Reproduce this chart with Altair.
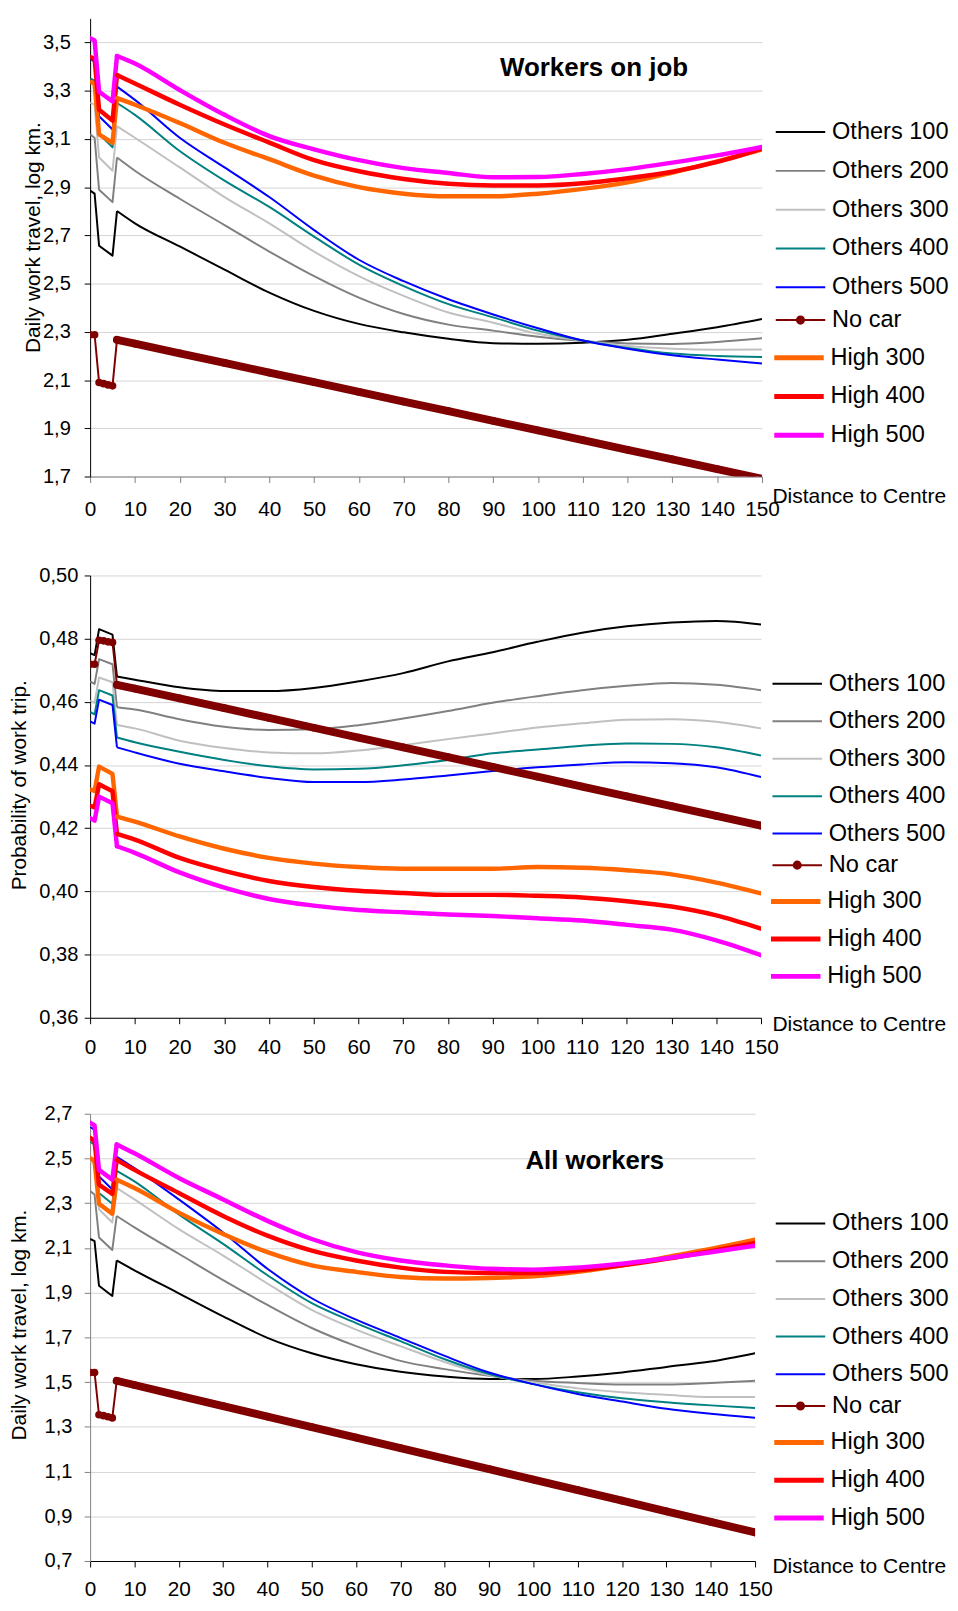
import altair as alt
import pandas as pd

FONT = "Liberation Sans"

OTHERS = ["Others 100", "Others 200", "Others 300", "Others 400", "Others 500"]
OTHERS_COLORS = ["#000000", "#808080", "#C0C0C0", "#008080", "#0000FF"]
NOCAR = ["No car"]
NOCAR_COLORS = ["#800000"]
HIGH = ["High 300", "High 400", "High 500"]
HIGH_COLORS = ["#FF6600", "#FF0000", "#FF00FF"]
SERIES = OTHERS + NOCAR + HIGH

DIST = [0, 1, 2, 5, 6, 10, 20, 30, 40, 50, 60, 70, 80, 90, 100, 110, 120, 130, 140, 150]
DIST_NOCAR = [0, 1, 2, 3, 4, 5, 6, 10, 20, 30, 40, 50, 60, 70, 80, 90, 100, 110, 120, 130, 140, 150]
X_TICKS = list(range(0, 151, 10))

# ---------- Panel 1: Workers on job (daily work travel, log km) ----------
P1_OTHERS_100 = [2.886, 2.873, 2.657, 2.616, 2.801, 2.750, 2.654, 2.558, 2.463, 2.387, 2.333, 2.298, 2.271, 2.253, 2.251, 2.255, 2.267, 2.292, 2.319, 2.353]
P1_OTHERS_200 = [3.119, 3.105, 2.889, 2.838, 3.023, 2.968, 2.852, 2.743, 2.633, 2.531, 2.442, 2.374, 2.330, 2.305, 2.280, 2.262, 2.252, 2.250, 2.258, 2.273]
P1_OTHERS_300 = [3.251, 3.242, 3.023, 2.968, 3.153, 3.105, 2.982, 2.859, 2.750, 2.633, 2.531, 2.449, 2.380, 2.338, 2.292, 2.264, 2.241, 2.230, 2.226, 2.227]
P1_OTHERS_400 = [3.351, 3.342, 3.120, 3.065, 3.249, 3.200, 3.050, 2.927, 2.818, 2.695, 2.579, 2.490, 2.415, 2.360, 2.305, 2.264, 2.233, 2.210, 2.200, 2.196]
P1_OTHERS_500 = [3.433, 3.420, 3.194, 3.139, 3.317, 3.262, 3.105, 2.982, 2.859, 2.722, 2.599, 2.510, 2.435, 2.372, 2.315, 2.264, 2.230, 2.203, 2.185, 2.169]
P1_NO_CAR = [2.288, 2.288, 2.090, 2.085, 2.080, 2.076, 2.267, 2.251, 2.211, 2.171, 2.131, 2.091, 2.051, 2.011, 1.971, 1.931, 1.891, 1.851, 1.811, 1.771, 1.731, 1.691]
P1_HIGH_300 = [3.337, 3.330, 3.119, 3.084, 3.269, 3.242, 3.166, 3.084, 3.016, 2.948, 2.900, 2.873, 2.862, 2.862, 2.873, 2.893, 2.920, 2.961, 3.007, 3.057]
P1_HIGH_400 = [3.440, 3.433, 3.221, 3.176, 3.365, 3.330, 3.242, 3.160, 3.085, 3.012, 2.966, 2.934, 2.914, 2.907, 2.907, 2.916, 2.937, 2.964, 3.005, 3.060]
P1_HIGH_500 = [3.518, 3.508, 3.296, 3.255, 3.444, 3.413, 3.303, 3.200, 3.112, 3.057, 3.012, 2.979, 2.959, 2.941, 2.942, 2.955, 2.975, 3.002, 3.032, 3.067]

# ---------- Panel 2: probability of work trip ----------
P2_OTHERS_100 = [0.4754, 0.4748, 0.4830, 0.4813, 0.4680, 0.4670, 0.4646, 0.4634, 0.4634, 0.4644, 0.4665, 0.4691, 0.4728, 0.4757, 0.4790, 0.4819, 0.4839, 0.4851, 0.4856, 0.4845]
P2_OTHERS_200 = [0.4665, 0.4657, 0.4735, 0.4719, 0.4583, 0.4576, 0.4545, 0.4521, 0.4511, 0.4513, 0.4526, 0.4547, 0.4571, 0.4597, 0.4618, 0.4637, 0.4651, 0.4660, 0.4654, 0.4637]
P2_OTHERS_300 = [0.4604, 0.4597, 0.4677, 0.4662, 0.4527, 0.4516, 0.4477, 0.4454, 0.4440, 0.4437, 0.4446, 0.4463, 0.4482, 0.4500, 0.4519, 0.4532, 0.4543, 0.4545, 0.4537, 0.4516]
P2_OTHERS_400 = [0.4568, 0.4560, 0.4637, 0.4620, 0.4487, 0.4472, 0.4442, 0.4416, 0.4396, 0.4386, 0.4388, 0.4399, 0.4416, 0.4437, 0.4449, 0.4461, 0.4468, 0.4467, 0.4456, 0.4430]
P2_OTHERS_500 = [0.4538, 0.4531, 0.4607, 0.4590, 0.4456, 0.4440, 0.4404, 0.4380, 0.4359, 0.4346, 0.4346, 0.4354, 0.4367, 0.4381, 0.4393, 0.4402, 0.4409, 0.4406, 0.4393, 0.4362]
P2_NO_CAR = [0.4719, 0.4719, 0.4795, 0.4793, 0.4790, 0.4788, 0.4654, 0.4642, 0.4611, 0.4580, 0.4549, 0.4518, 0.4487, 0.4456, 0.4425, 0.4394, 0.4363, 0.4332, 0.4301, 0.4270, 0.4239, 0.4208]
P2_HIGH_300 = [0.4323, 0.4318, 0.4395, 0.4372, 0.4237, 0.4221, 0.4174, 0.4135, 0.4106, 0.4088, 0.4077, 0.4072, 0.4072, 0.4072, 0.4077, 0.4075, 0.4067, 0.4054, 0.4028, 0.3994]
P2_HIGH_400 = [0.4271, 0.4266, 0.4339, 0.4317, 0.4182, 0.4164, 0.4106, 0.4065, 0.4033, 0.4014, 0.4002, 0.3995, 0.3989, 0.3989, 0.3986, 0.3981, 0.3969, 0.3952, 0.3924, 0.3882]
P2_HIGH_500 = [0.4232, 0.4224, 0.4300, 0.4279, 0.4143, 0.4122, 0.4060, 0.4012, 0.3976, 0.3955, 0.3941, 0.3934, 0.3927, 0.3922, 0.3915, 0.3908, 0.3894, 0.3879, 0.3845, 0.3798]

# ---------- Panel 3: All workers (daily work travel, log km) ----------
P3_OTHERS_100 = [2.140, 2.130, 1.931, 1.885, 2.044, 2.000, 1.897, 1.794, 1.698, 1.629, 1.580, 1.546, 1.525, 1.514, 1.514, 1.525, 1.543, 1.568, 1.592, 1.629]
P3_OTHERS_200 = [2.354, 2.339, 2.147, 2.091, 2.243, 2.192, 2.074, 1.956, 1.845, 1.742, 1.661, 1.595, 1.558, 1.528, 1.506, 1.496, 1.489, 1.489, 1.496, 1.506]
P3_OTHERS_300 = [2.486, 2.478, 2.273, 2.214, 2.368, 2.317, 2.184, 2.066, 1.941, 1.823, 1.735, 1.661, 1.590, 1.531, 1.499, 1.472, 1.455, 1.443, 1.433, 1.433]
P3_OTHERS_400 = [2.575, 2.562, 2.346, 2.298, 2.445, 2.398, 2.250, 2.118, 1.978, 1.853, 1.764, 1.683, 1.602, 1.536, 1.491, 1.455, 1.428, 1.410, 1.396, 1.384]
P3_OTHERS_500 = [2.641, 2.628, 2.420, 2.361, 2.508, 2.457, 2.317, 2.169, 2.007, 1.875, 1.779, 1.698, 1.617, 1.543, 1.491, 1.447, 1.413, 1.381, 1.359, 1.341]
P3_NO_CAR = [1.543, 1.543, 1.354, 1.350, 1.345, 1.340, 1.506, 1.487, 1.440, 1.393, 1.346, 1.299, 1.252, 1.205, 1.158, 1.111, 1.064, 1.017, 0.970, 0.922, 0.875, 0.828]
P3_HIGH_300 = [2.501, 2.489, 2.298, 2.253, 2.405, 2.368, 2.258, 2.162, 2.081, 2.022, 1.993, 1.970, 1.963, 1.966, 1.973, 1.993, 2.022, 2.059, 2.096, 2.137]
P3_HIGH_400 = [2.592, 2.578, 2.383, 2.342, 2.494, 2.449, 2.346, 2.243, 2.155, 2.088, 2.044, 2.012, 1.993, 1.988, 1.988, 2.000, 2.022, 2.051, 2.085, 2.122]
P3_HIGH_500 = [2.660, 2.648, 2.449, 2.405, 2.563, 2.523, 2.413, 2.317, 2.221, 2.140, 2.081, 2.044, 2.022, 2.007, 2.003, 2.012, 2.029, 2.054, 2.081, 2.110]

P1_TICKS = [1.7, 1.9, 2.1, 2.3, 2.5, 2.7, 2.9, 3.1, 3.3, 3.5]
P2_TICKS = [0.36, 0.38, 0.40, 0.42, 0.44, 0.46, 0.48, 0.50]
P3_TICKS = [0.7, 0.9, 1.1, 1.3, 1.5, 1.7, 1.9, 2.1, 2.3, 2.5, 2.7]

# panel headings, anchored in data units (distance, value)
P1_HEADING = {"label": ["Workers on job"], "d": [91.5], "v": [3.363]}
P3_HEADING = {"label": ["All workers"], "d": [98.2], "v": [2.455]}


def frame(cols):
    rows = []
    for s, vals in zip(SERIES, cols):
        xs = DIST_NOCAR if s == "No car" else DIST
        for d, v in zip(xs, vals):
            rows.append({"series": s, "d": d, "v": v})
    return pd.DataFrame(rows)


DF1 = frame([P1_OTHERS_100, P1_OTHERS_200, P1_OTHERS_300, P1_OTHERS_400, P1_OTHERS_500,
             P1_NO_CAR, P1_HIGH_300, P1_HIGH_400, P1_HIGH_500])
DF2 = frame([P2_OTHERS_100, P2_OTHERS_200, P2_OTHERS_300, P2_OTHERS_400, P2_OTHERS_500,
             P2_NO_CAR, P2_HIGH_300, P2_HIGH_400, P2_HIGH_500])
DF3 = frame([P3_OTHERS_100, P3_OTHERS_200, P3_OTHERS_300, P3_OTHERS_400, P3_OTHERS_500,
             P3_NO_CAR, P3_HIGH_300, P3_HIGH_400, P3_HIGH_500])


def circ(cx, r):
    return "M%.4f,0A%.4f,%.4f,0,1,1,%.4f,0A%.4f,%.4f,0,1,1,%.4f,0Z" % (cx - r, r, r, cx + r, r, r, cx - r)


LINE_PATH = "M-1.4375,0H4.8125"
DOT_PATH = LINE_PATH + circ(1.6875, 0.45)
LEG_FONT = 23.8
ENTRY_H = 23.8
ENTRY_MID = 12


def legend(x, y, rp, sym, sw, stroke_color=None):
    kw = dict(orient="none", legendX=x, legendY=y, title=None, padding=0,
              symbolType=sym, symbolSize=256, symbolStrokeWidth=sw,
              labelFont=FONT, labelFontSize=LEG_FONT, labelColor="black", labelOffset=33.5,
              rowPadding=rp, labelLimit=300)
    if stroke_color is not None:
        kw["symbolStrokeColor"] = stroke_color
    return alt.Legend(**kw)


def heading_size(h):
    return 26.2 if h["label"][0] == "Workers on job" else 26


def panel(df, width, height, ydom, yticks, ydec, ytitle, yax, xax, leg, heading=None):
    lx, ly0, sp = leg["x"], leg["y0"], leg["sp"]
    rp = sp - ENTRY_H
    leg_others = legend(lx, ly0 - ENTRY_MID, rp, LINE_PATH, 2)
    leg_nocar = legend(lx, ly0 + 5 * sp - ENTRY_MID, rp, DOT_PATH, 2, "#800000")
    leg_high = legend(lx - 1.5, ly0 + 6 * sp - ENTRY_MID, rp, LINE_PATH, 5)

    label_expr = "replace(format(datum.value, '.%df'), '.', ',')" % ydec

    xscale = alt.Scale(domain=[0, 150], nice=False, zero=False)
    yscale = alt.Scale(domain=ydom, nice=False, zero=False)
    xenc = alt.X("d:Q", scale=xscale,
                 axis=alt.Axis(values=X_TICKS, format="d", grid=False, tickSize=6,
                               tickColor=xax["c"], domainColor=xax["c"], labelOverlap=False,
                               labelFlush=False,
                               labelFont=FONT, labelFontSize=21, labelColor="black",
                               labelPadding=xax["lp"], title="Distance to Centre",
                               titleFont=FONT, titleFontSize=21.2, titleFontWeight="normal",
                               titleColor="black", titleX=xax["tx"], titleY=xax["ty"],
                               titleAlign="left", titleBaseline="alphabetic"))
    yenc = alt.Y("v:Q", scale=yscale,
                 axis=alt.Axis(values=yticks, labelExpr=label_expr,
                               grid=True, gridColor="#D4D4D4", gridWidth=1, tickSize=6,
                               tickColor=yax["c"], domainColor=yax["c"], labelOverlap=False,
                               labelFlush=False,
                               labelFont=FONT, labelFontSize=20.3, labelColor="black",
                               labelPadding=yax["lp"], title=ytitle, titleFont=FONT,
                               titleFontSize=21, titleFontWeight="normal", titleColor="black",
                               titleX=yax["tx"], titleY=yax["ty"], titleAngle=270,
                               titleAlign="center", titleBaseline="middle"))
    base = alt.Chart(df)

    def ocol(show):
        return alt.Color("series:N", scale=alt.Scale(domain=OTHERS, range=OTHERS_COLORS),
                         legend=leg_others if show else None)

    def hcol(show):
        return alt.Stroke("series:N", scale=alt.Scale(domain=HIGH, range=HIGH_COLORS),
                          legend=leg_high if show else None)

    others = "indexof(datum.series, 'Others') === 0"
    high = "indexof(datum.series, 'High') === 0"
    nocar = "datum.series === 'No car'"
    layers = [
        base.transform_filter(others + " && datum.d <= 6").mark_line(
            strokeWidth=2, clip=True, strokeJoin="round").encode(x=xenc, y=yenc, color=ocol(True)),
        base.transform_filter(others + " && datum.d >= 6").mark_line(
            strokeWidth=2, clip=True, interpolate="monotone").encode(x=xenc, y=yenc, color=ocol(False)),
        base.transform_filter(nocar).mark_line(strokeWidth=2, clip=True, color=NOCAR_COLORS[0]).encode(
            x=xenc, y=yenc),
        base.transform_filter(nocar + " && datum.d >= 6").mark_line(
            strokeWidth=8, clip=True, strokeCap="round", color=NOCAR_COLORS[0]).encode(x=xenc, y=yenc),
        base.transform_filter(nocar).mark_point(filled=True, size=60, opacity=1, clip=True).encode(
            x=xenc, y=yenc,
            fill=alt.Fill("series:N", scale=alt.Scale(domain=NOCAR, range=NOCAR_COLORS), legend=leg_nocar)),
        base.transform_filter(high + " && datum.d <= 6").mark_line(
            strokeWidth=4.5, clip=True, strokeJoin="round", strokeCap="round").encode(
            x=xenc, y=yenc, stroke=hcol(True)),
        base.transform_filter(high + " && datum.d >= 6").mark_line(
            strokeWidth=4.5, clip=True, interpolate="monotone", strokeCap="round").encode(
            x=xenc, y=yenc, stroke=hcol(False)),
    ]
    if heading is not None:
        layers.append(
            alt.Chart(pd.DataFrame(heading)).mark_text(
                align="left", baseline="alphabetic", font=FONT, fontSize=heading_size(heading),
                fontWeight="bold", color="black").encode(
                x=alt.X("d:Q", scale=xscale), y=alt.Y("v:Q", scale=yscale), text="label:N"))
    return alt.layer(*layers).properties(width=width, height=height)


# common plot left edge at 90px
p1 = panel(DF1, 679, 463, [1.7, 3.6], P1_TICKS, 1, "Daily work travel, log km.",
           yax={"c": "#000000", "lp": 14, "tx": -57, "ty": 221},
           xax={"c": "#808080", "lp": 16, "tx": 689, "ty": 26},
           leg={"x": 692.5, "y0": 115, "sp": 38},
           heading=P1_HEADING)
p2 = panel(DF2, 678, 447, [0.36, 0.50], P2_TICKS, 2, "Probability of work trip.",
           yax={"c": "#000000", "lp": 6.3, "tx": -71, "ty": 211.5},
           xax={"c": "#000000", "lp": 13.5, "tx": 689, "ty": 12.5},
           leg={"x": 689.2, "y0": 109.5, "sp": 36.67})
p3 = panel(DF3, 672, 452, [0.7, 2.7], P3_TICKS, 1, "Daily work travel, log km.",
           yax={"c": "#808080", "lp": 12.3, "tx": -71, "ty": 213},
           xax={"c": "#000000", "lp": 12, "tx": 689, "ty": 12},
           leg={"x": 692.5, "y0": 111, "sp": 36.9},
           heading=P3_HEADING)


def indep(c):
    return c.resolve_scale(color="independent", stroke="independent", fill="independent").resolve_legend(
        color="independent", stroke="independent", fill="independent")


chart = alt.ConcatChart(concat=[p1, p2, p3], columns=1, align="none", spacing=45, bounds="full")
chart = indep(chart)
chart = chart.properties(padding={"left": 0, "top": 1, "right": 0, "bottom": 0})
chart = chart.configure_view(stroke="transparent")

chart.save("out.html", embed_options={"renderer": "svg", "actions": False})
